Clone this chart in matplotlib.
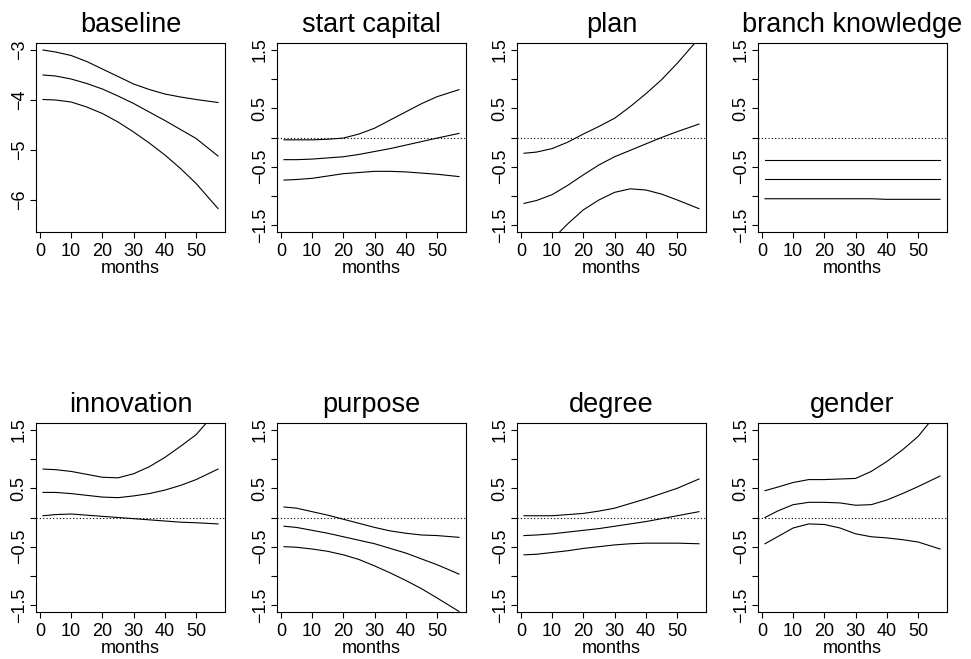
import matplotlib.pyplot as plt

plt.rcParams['font.family'] = ['Liberation Sans', 'DejaVu Sans']

# months at which the coefficient curves are read
months = [1, 5, 10, 15, 20, 25, 30, 35, 40, 45, 50, 57]

titles = ['baseline', 'start capital', 'plan', 'branch knowledge',
          'innovation', 'purpose', 'degree', 'gender']

# upper band, estimate, lower band for each covariate
baseline_up = [-3.00, -3.04, -3.11, -3.23, -3.38, -3.53, -3.68, -3.79, -3.88, -3.94, -3.99, -4.05]
baseline_est = [-3.50, -3.52, -3.58, -3.67, -3.78, -3.92, -4.07, -4.24, -4.41, -4.59, -4.77, -5.12]
baseline_lo = [-3.99, -4.00, -4.04, -4.14, -4.27, -4.44, -4.64, -4.86, -5.10, -5.37, -5.67, -6.17]

capital_up = [-0.04, -0.04, -0.04, -0.03, -0.01, 0.06, 0.16, 0.30, 0.44, 0.58, 0.70, 0.82]
capital_est = [-0.38, -0.38, -0.37, -0.35, -0.33, -0.29, -0.24, -0.19, -0.13, -0.07, -0.01, 0.07]
capital_lo = [-0.73, -0.72, -0.70, -0.66, -0.62, -0.60, -0.58, -0.58, -0.59, -0.61, -0.63, -0.67]

plan_up = [-0.27, -0.25, -0.19, -0.08, 0.06, 0.19, 0.33, 0.53, 0.75, 0.99, 1.27, 1.70]
plan_est = [-1.13, -1.08, -0.98, -0.82, -0.64, -0.47, -0.33, -0.22, -0.11, 0.00, 0.10, 0.23]
plan_lo = [-2.30, -2.05, -1.75, -1.48, -1.24, -1.07, -0.94, -0.88, -0.90, -0.97, -1.07, -1.22]

branch_up = [-0.38, -0.38, -0.38, -0.38, -0.38, -0.38, -0.38, -0.38, -0.38, -0.38, -0.38, -0.38]
branch_est = [-0.71, -0.71, -0.71, -0.71, -0.71, -0.71, -0.71, -0.71, -0.71, -0.71, -0.71, -0.71]
branch_lo = [-1.05, -1.05, -1.05, -1.05, -1.05, -1.05, -1.05, -1.05, -1.06, -1.06, -1.06, -1.06]

innov_up = [0.83, 0.82, 0.79, 0.74, 0.69, 0.68, 0.75, 0.87, 1.03, 1.22, 1.42, 1.85]
innov_est = [0.43, 0.43, 0.41, 0.38, 0.35, 0.34, 0.37, 0.41, 0.47, 0.55, 0.65, 0.83]
innov_lo = [0.03, 0.05, 0.06, 0.04, 0.02, 0.00, -0.02, -0.04, -0.06, -0.08, -0.09, -0.11]

purpose_up = [0.18, 0.16, 0.10, 0.04, -0.03, -0.10, -0.17, -0.23, -0.27, -0.30, -0.31, -0.34]
purpose_est = [-0.15, -0.17, -0.22, -0.27, -0.33, -0.39, -0.45, -0.53, -0.61, -0.71, -0.81, -0.97]
purpose_lo = [-0.50, -0.51, -0.54, -0.58, -0.64, -0.72, -0.83, -0.95, -1.08, -1.22, -1.38, -1.61]

degree_up = [0.03, 0.03, 0.03, 0.05, 0.07, 0.11, 0.16, 0.24, 0.32, 0.41, 0.50, 0.66]
degree_est = [-0.31, -0.30, -0.28, -0.25, -0.22, -0.19, -0.15, -0.11, -0.07, -0.02, 0.03, 0.10]
degree_lo = [-0.64, -0.63, -0.60, -0.57, -0.53, -0.50, -0.47, -0.45, -0.44, -0.44, -0.44, -0.45]

gender_up = [0.46, 0.52, 0.60, 0.65, 0.65, 0.66, 0.67, 0.79, 0.96, 1.16, 1.39, 1.85]
gender_est = [0.00, 0.11, 0.22, 0.26, 0.26, 0.25, 0.21, 0.22, 0.30, 0.41, 0.53, 0.71]
gender_lo = [-0.45, -0.33, -0.18, -0.11, -0.12, -0.18, -0.28, -0.33, -0.35, -0.38, -0.42, -0.54]

curves = [
    (baseline_up, baseline_est, baseline_lo),
    (capital_up, capital_est, capital_lo),
    (plan_up, plan_est, plan_lo),
    (branch_up, branch_est, branch_lo),
    (innov_up, innov_est, innov_lo),
    (purpose_up, purpose_est, purpose_lo),
    (degree_up, degree_est, degree_lo),
    (gender_up, gender_est, gender_lo),
]

W, H = 971, 659
fig = plt.figure(figsize=(W / 100, H / 100), dpi=100)

col_left = [36, 277, 517, 758]
row_top = [43, 423]
box = 189


def r_lim(lo, hi):
    # R style 4% padding around the range
    pad = (hi - lo) * 0.04
    return lo - pad, hi + pad


for i, (title, bands) in enumerate(zip(titles, curves)):
    r, c = divmod(i, 4)
    ax = fig.add_axes([col_left[c] / W, (H - row_top[r] - box) / H, box / W, box / H])
    for y in bands:
        ax.plot(months, y, color='black', lw=0.8)

    ax.set_xlim(r_lim(1, 57))
    ax.set_xticks([0, 10, 20, 30, 40, 50])
    if i == 0:
        ax.set_ylim(r_lim(-6.5, -3))
        ax.set_yticks([-6, -5, -4, -3])
        ax.set_yticklabels(['\u22126', '\u22125', '\u22124', '\u22123'])
    else:
        ax.axhline(0, color='black', lw=0.8, ls=(0, (1, 2)))
        ax.set_ylim(r_lim(-1.5, 1.5))
        ax.set_yticks([-1.5, -1.0, -0.5, 0.0, 0.5, 1.0, 1.5])
        ax.set_yticklabels(['\u22121.5', '', '\u22120.5', '', '0.5', '', '1.5'])

    ax.tick_params(direction='out', length=4, width=0.8, labelsize=13)
    ax.tick_params(axis='x', pad=4)
    ax.tick_params(axis='y', pad=2)
    for lab in ax.get_yticklabels():
        lab.set_rotation(90)
        lab.set_va('center')
    for s in ax.spines.values():
        s.set_linewidth(0.8)
    ax.set_title(title, fontsize=19.5, pad=8)
    ax.set_xlabel('months', fontsize=13, labelpad=0)

fig.savefig('out.png', dpi=100)
